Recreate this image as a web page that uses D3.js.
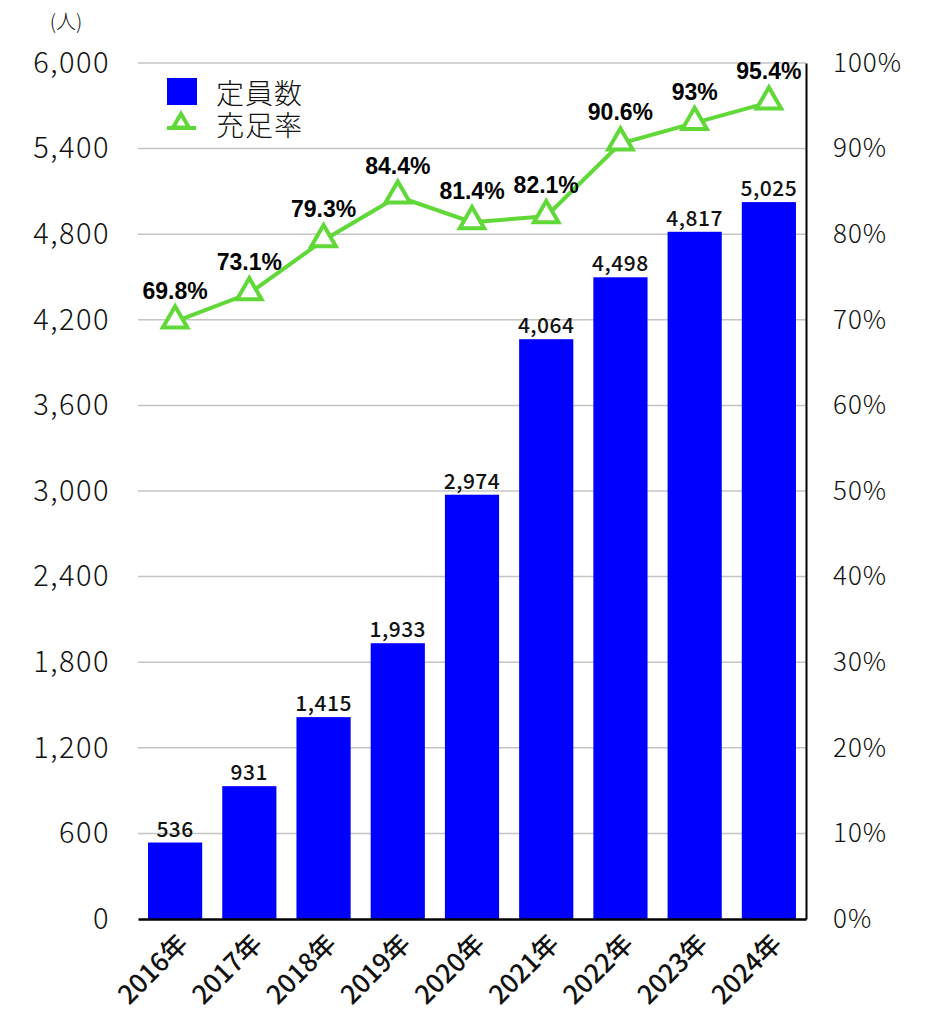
<!DOCTYPE html>
<html><head><meta charset="utf-8">
<script src="https://cdn.jsdelivr.net/npm/d3@7"></script>
<style>body{margin:0;background:#fff}</style>
</head><body>
<svg id="c" width="932" height="1013"></svg>
<script>
const years = ["2016年","2017年","2018年","2019年","2020年","2021年","2022年","2023年","2024年"];
const capacity = [536, 931, 1415, 1933, 2974, 4064, 4498, 4817, 5025];
const fillRate = [69.8, 73.1, 79.3, 84.4, 81.4, 82.1, 90.6, 93, 95.4];
const leftTicks = [0, 600, 1200, 1800, 2400, 3000, 3600, 4200, 4800, 5400, 6000];
const rightTicks = [0, 10, 20, 30, 40, 50, 60, 70, 80, 90, 100];

const svg = d3.select("#c");
const L = 138, R = 806, T = 63, B = 919;
const jp = "'Noto Sans CJK JP','Noto Sans',sans-serif";
const green = "#5fd838";

const x = d3.scaleBand().domain(years).range([L, R]).paddingInner(0.27).paddingOuter(0.135);
const y = d3.scaleLinear().domain([0, 6000]).range([B, T]);
const y2 = d3.scaleLinear().domain([0, 100]).range([B, T]);

// gridlines
svg.append("g").selectAll("line").data(leftTicks.filter(d => d > 0)).join("line")
  .attr("x1", L).attr("x2", R).attr("y1", d => y(d)).attr("y2", d => y(d))
  .attr("stroke", "#c4c4c4").attr("stroke-width", 1.5);

// left axis
const gl = svg.append("g").attr("transform", `translate(${L},0)`)
  .call(d3.axisLeft(y).tickValues(leftTicks).tickFormat(d3.format(",")).tickSize(0).tickPadding(28));
gl.select(".domain").remove();
gl.selectAll("text").attr("font-family", jp).attr("font-size", 29).attr("font-weight", 300)
  .attr("letter-spacing", "1.5px").attr("fill", "#111");

// right axis
const gr = svg.append("g").attr("transform", `translate(${R},0)`)
  .call(d3.axisRight(y2).tickValues(rightTicks).tickFormat(d => d + "%").tickSize(0).tickPadding(27));
gr.select(".domain").attr("stroke", "#000").attr("stroke-width", 2);
gr.selectAll("text").attr("font-family", jp).attr("font-size", 26).attr("font-weight", 300)
  .attr("letter-spacing", "1px").attr("fill", "#111");

// bars
svg.append("g").selectAll("rect").data(capacity).join("rect")
  .attr("x", (d, i) => x(years[i])).attr("width", x.bandwidth())
  .attr("y", d => y(d)).attr("height", d => B - y(d))
  .attr("fill", "#0000ff");

// bottom axis
const gb = svg.append("g").attr("transform", `translate(0,${B})`)
  .call(d3.axisBottom(x).tickSize(0).tickPadding(0));
gb.select(".domain").attr("stroke", "#000").attr("stroke-width", 2.5);
gb.selectAll("text").attr("font-family", jp).attr("font-size", 26).attr("font-weight", 500).attr("fill", "#111")
  .attr("text-anchor", "end").attr("x", 0).attr("y", 0).attr("dy", "0.35em")
  .attr("transform", "translate(8,20) rotate(-45)");

// bar labels
svg.append("g").selectAll("text").data(capacity).join("text")
  .attr("x", (d, i) => x(years[i]) + x.bandwidth() / 2).attr("y", d => y(d) - 6)
  .attr("text-anchor", "middle").attr("font-family", jp).attr("font-size", 21).attr("font-weight", 500)
  .attr("letter-spacing", "0.5px").attr("fill", "#111").text(d3.format(","));

// line
const cx = (i) => x(years[i]) + x.bandwidth() / 2;
svg.append("path").datum(fillRate)
  .attr("d", d3.line().x((d, i) => cx(i)).y(d => y2(d)))
  .attr("fill", "none").attr("stroke", green).attr("stroke-width", 4);

const tri = d3.symbol().type(d3.symbolTriangle).size(260);
svg.append("g").selectAll("path").data(fillRate).join("path")
  .attr("d", tri).attr("transform", (d, i) => `translate(${cx(i)},${y2(d) - 1})`)
  .attr("fill", "#fff").attr("stroke", green).attr("stroke-width", 4);

svg.append("g").selectAll("text").data(fillRate).join("text")
  .attr("x", (d, i) => cx(i)).attr("y", d => y2(d) - 23)
  .attr("text-anchor", "middle").attr("font-family", "'Liberation Sans',Arial,sans-serif")
  .attr("font-size", 23).attr("font-weight", "bold").attr("fill", "#000")
  .text(d => d + "%");

// legend
svg.append("rect").attr("x", 167).attr("y", 78).attr("width", 30).attr("height", 27).attr("fill", "#0000ff");
svg.append("text").attr("x", 216).attr("y", 104).attr("font-family", jp).attr("font-size", 28).attr("font-weight", 300)
  .attr("letter-spacing", "1px").attr("fill", "#111").text("定員数");
svg.append("line").attr("x1", 167).attr("x2", 196).attr("y1", 128).attr("y2", 128).attr("stroke", green).attr("stroke-width", 4);
svg.append("path").attr("d", d3.symbol().type(d3.symbolTriangle).size(110)).attr("transform", "translate(181,123)")
  .attr("fill", "#fff").attr("stroke", green).attr("stroke-width", 4);
svg.append("text").attr("x", 216).attr("y", 136).attr("font-family", jp).attr("font-size", 28).attr("font-weight", 300)
  .attr("letter-spacing", "1px").attr("fill", "#111").text("充足率");

// unit
svg.append("text").attr("x", 66).attr("y", 29).attr("text-anchor", "middle").attr("font-family", jp).attr("font-size", 20).attr("font-weight", 300).attr("fill", "#111").text("(人)");
</script>
</body></html>
